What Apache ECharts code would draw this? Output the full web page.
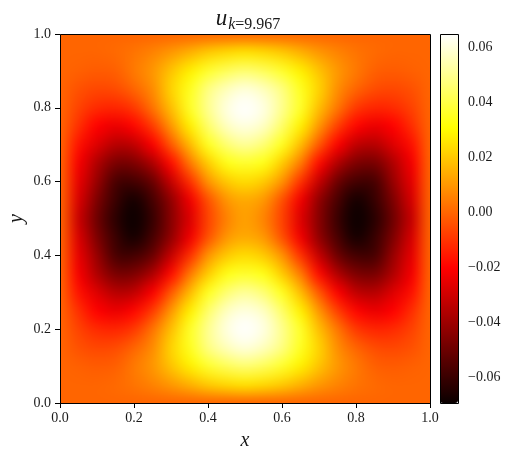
<!DOCTYPE html>
<html><head><meta charset="utf-8">
<style>html,body{margin:0;padding:0;background:#fff}#c{width:513px;height:458px}</style>
<script src="https://cdn.jsdelivr.net/npm/echarts@6/dist/echarts.min.js"></script>
</head><body><div id="c"></div>
<script>
// node positions
const xNodes = [0,.05,.1,.15,.2,.25,.3,.35,.4,.45,.5,.55,.6,.65,.7,.75,.8,.85,.9,.95,1];
const yNodes = [0,.05,.1,.15,.2,.25,.3,.35,.4,.45,.5,.55,.6,.65,.7,.75,.8,.85,.9,.95,1];
// u values, in thousandths; first row is y=0
const uRows = [
[0,0,0,0,0,0,0,0,0,0,0,0,0,0,0,0,0,0,0,0,0],
[0,0,0,1,3,6,10,15,20,23,25,23,20,15,10,6,3,1,0,0,0],
[0,-1,-2,-1,4,10,19,28,37,43,46,43,37,28,19,10,4,-1,-2,-1,0],
[0,-4,-6,-5,0,8,22,35,48,56,60,56,48,35,22,8,0,-5,-6,-4,0],
[0,-7,-12,-13,-9,3,18,36,50,61,65,61,50,36,18,3,-9,-13,-12,-7,0],
[0,-11,-20,-24,-19,-8,10,28,45,57,61,57,45,28,10,-8,-19,-24,-20,-11,0],
[0,-17,-27,-35,-33,-21,-3,17,35,46,51,46,35,17,-3,-21,-33,-35,-27,-17,0],
[0,-22,-36,-47,-46,-36,-18,4,21,34,37,34,21,4,-18,-36,-46,-47,-36,-22,0],
[0,-25,-41,-57,-58,-50,-32,-11,9,20,24,20,9,-11,-32,-50,-58,-57,-41,-25,0],
[0,-28,-46,-60,-67,-57,-42,-23,-4,10,14,10,-4,-23,-42,-57,-67,-60,-46,-28,0],
[0,-31,-49,-63,-69,-60,-44,-27,-7,6,12,6,-7,-27,-44,-60,-69,-63,-49,-31,0],
[0,-28,-46,-60,-67,-57,-42,-23,-4,10,14,10,-4,-23,-42,-57,-67,-60,-46,-28,0],
[0,-25,-41,-57,-58,-50,-32,-11,9,20,24,20,9,-11,-32,-50,-58,-57,-41,-25,0],
[0,-22,-36,-47,-46,-36,-18,4,21,34,37,34,21,4,-18,-36,-46,-47,-36,-22,0],
[0,-17,-27,-35,-33,-21,-3,17,35,46,51,46,35,17,-3,-21,-33,-35,-27,-17,0],
[0,-11,-20,-24,-19,-8,10,28,45,57,61,57,45,28,10,-8,-19,-24,-20,-11,0],
[0,-7,-12,-13,-9,3,18,36,50,61,65,61,50,36,18,3,-9,-13,-12,-7,0],
[0,-4,-6,-5,0,8,22,35,48,56,60,56,48,35,22,8,0,-5,-6,-4,0],
[0,-1,-2,-1,4,10,19,28,37,43,46,43,37,28,19,10,4,-1,-2,-1,0],
[0,0,0,1,3,6,10,15,20,23,25,23,20,15,10,6,3,1,0,0,0],
[0,0,0,0,0,0,0,0,0,0,0,0,0,0,0,0,0,0,0,0,0]
];
const uMin = -0.0692, uMax = 0.065;
const xTicks = [0,.2,.4,.6,.8,1];
const barTicks = [-0.06,-0.04,-0.02,0,0.02,0.04,0.06];
const titleMain = 'u', titleK = 'k', titleRest = '=9.967';

const serif = '"Liberation Serif","Times New Roman",serif';
const ink = '#1a1a1a';
function hot(t){
  t=Math.max(0,Math.min(1,t));
  const r=t<.365079?.0416+(1-.0416)*t/.365079:1;
  const g=t<.365079?0:t<.746032?(t-.365079)/(.746032-.365079):1;
  const b=t<.746032?0:(t-.746032)/(1-.746032);
  return [r*255,g*255,b*255].map(Math.round);
}
const hotStops=[];
for(let k=0;k<=128;k++){const c=hot(k/128);hotStops.push('rgb('+c.join(',')+')');}

const nx=xNodes.length, ny=yNodes.length, S=20;
const base=document.createElement('canvas');base.width=nx;base.height=ny;
const bctx=base.getContext('2d');const img=bctx.createImageData(nx,ny);
const cells=[];
for(let j=0;j<ny;j++)for(let i=0;i<nx;i++){
  const v=uRows[j][i]/1000;
  const c=hot((v-uMin)/(uMax-uMin));
  const p=((ny-1-j)*nx+i)*4;
  img.data[p]=c[0];img.data[p+1]=c[1];img.data[p+2]=c[2];img.data[p+3]=255;
  if(i<nx-1&&j<ny-1)cells.push([xNodes[i],yNodes[j],v,i,j]);
}
bctx.putImageData(img,0,0);
// smooth display resampling of the drawn picture, like an imshow interpolation
const atlas=document.createElement('canvas');atlas.width=nx*S;atlas.height=ny*S;
const actx=atlas.getContext('2d');actx.imageSmoothingEnabled=true;actx.imageSmoothingQuality='high';
actx.drawImage(base,0,0,nx*S,ny*S);

function renderCell(params,api){
  const i=api.value(3),j=api.value(4);
  const a=api.coord([xNodes[i],yNodes[j+1]]);
  const b=api.coord([xNodes[i+1],yNodes[j]]);
  const x0=Math.round(a[0]),y0=Math.round(a[1]),x1=Math.round(b[0]),y1=Math.round(b[1]);
  return {type:'image',silent:true,style:{image:atlas,x:x0,y:y0,width:x1-x0,height:y1-y0,
    sx:(i+.5)*S,sy:(ny-2-j+.5)*S,sWidth:S,sHeight:S}};
}

const chart=echarts.init(document.getElementById('c'),null,{renderer:'canvas'});
const tickFmt=v=>v.toFixed(1);
chart.setOption({
  animation:false,backgroundColor:'#fff',
  title:{text:'{u|'+titleMain+'}{k|'+titleK+'}{s|'+titleRest+'}',left:243,top:2,textAlign:'center',
    textStyle:{fontWeight:'normal',rich:{
      u:{fontFamily:serif,fontStyle:'italic',fontWeight:'normal',fontSize:23,color:ink,verticalAlign:'bottom',padding:[0,0,3,0]},
      k:{fontFamily:serif,fontStyle:'italic',fontWeight:'normal',fontSize:16,color:ink,verticalAlign:'bottom',padding:[0,0,0,1]},
      s:{fontFamily:serif,fontWeight:'normal',fontSize:16,color:ink,verticalAlign:'bottom'}}}},
  grid:[{left:60,top:34,width:370,height:369,outerBoundsMode:'none',containLabel:false},
        {left:440,top:34,width:18,height:369,outerBoundsMode:'none',containLabel:false}],
  xAxis:[
   {gridIndex:0,type:'value',min:0,max:1,interval:.2,name:'x',nameLocation:'middle',nameGap:28,nameMoveOverlap:false,
    nameTextStyle:{fontFamily:serif,fontStyle:'italic',fontSize:20,color:ink},
    axisLine:{show:false},splitLine:{show:false},
    axisTick:{length:5,lineStyle:{color:'#000',width:1}},
    axisLabel:{fontFamily:serif,fontSize:14,color:ink,margin:8,formatter:tickFmt,
      customValues:xTicks}},
   {gridIndex:1,type:'value',show:false,min:0,max:1}
  ],
  yAxis:[
   {gridIndex:0,type:'value',min:0,max:1,interval:.2,name:'y',nameLocation:'middle',nameGap:33,nameMoveOverlap:false,
    nameTextStyle:{fontFamily:serif,fontStyle:'italic',fontSize:20,color:ink},
    axisLine:{show:false},splitLine:{show:false},
    axisTick:{length:5,lineStyle:{color:'#000',width:1}},
    axisLabel:{fontFamily:serif,fontSize:14,color:ink,margin:9,formatter:tickFmt}},
   {gridIndex:1,type:'value',position:'right',min:uMin,max:uMax,
    axisLine:{show:false},splitLine:{show:false},
    axisTick:{length:5,lineStyle:{color:'#000',width:1},customValues:barTicks},
    axisLabel:{fontFamily:serif,fontSize:14,color:ink,margin:10,customValues:barTicks,
      formatter:v=>(v<0?'\u2212':'')+Math.abs(v).toFixed(2)}}
  ],
  visualMap:{type:'continuous',seriesIndex:0,dimension:2,min:uMin,max:uMax,calculable:false,
    left:440,top:34,itemWidth:18,itemHeight:369,text:null,showLabel:false,hoverLink:false,
    textStyle:{fontSize:0},padding:0,inRange:{color:hotStops}},
  series:[{type:'custom',coordinateSystem:'cartesian2d',xAxisIndex:0,yAxisIndex:0,
    encode:{x:0,y:1},data:cells,renderItem:renderCell,clip:true,silent:true}],
  graphic:[
   {type:'rect',z:100,silent:true,shape:{x:60.5,y:34.5,width:370,height:369},style:{fill:'none',stroke:'#000',lineWidth:1}},
   {type:'rect',z:100,silent:true,shape:{x:440.5,y:34.5,width:18,height:369},style:{fill:'none',stroke:'#000',lineWidth:1}}
  ]
});
</script></body></html>
